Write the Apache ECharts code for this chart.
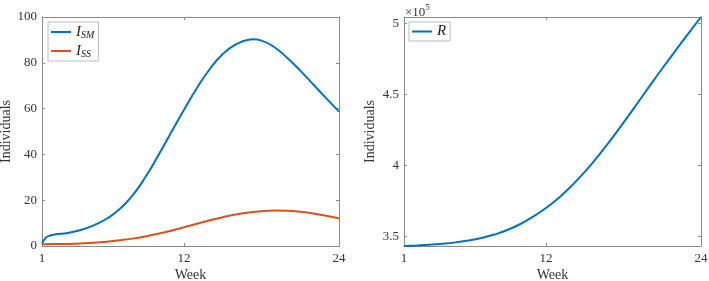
<!DOCTYPE html>
<html>
<head>
<meta charset="utf-8">
<script src="https://cdn.jsdelivr.net/npm/echarts@6/dist/echarts.min.js"></script>
<style>html,body{margin:0;padding:0;background:#fff}#c{width:709px;height:281px}</style>
</head>
<body>
<div id="c"></div>
<script>
// ---- data ----
const smWeeks = [1, 1.25, 1.5, 2, 3, 4, 5, 6, 7, 8, 9, 10, 11, 12, 13, 14, 15, 16, 17, 17.35, 18, 19, 20, 21, 22, 23, 24];
const iSM = [1.0, 3.3, 4.3, 5.0, 5.7, 7.0, 9.0, 11.9, 16.0, 22.0, 30.0, 39.5, 49.6, 59.5, 69.0, 77.3, 83.8, 88.0, 90.1, 90.25, 89.7, 86.8, 82.1, 76.6, 70.6, 64.6, 58.7];
const weeks = [1, 2, 3, 4, 5, 6, 7, 8, 9, 10, 11, 12, 13, 14, 15, 16, 17, 18, 19, 20, 21, 22, 23, 24];
const iSS = [0.8, 0.82, 0.92, 1.12, 1.42, 1.87, 2.47, 3.22, 4.17, 5.32, 6.67, 8.17, 9.72, 11.22, 12.57, 13.72, 14.62, 15.22, 15.45, 15.35, 14.92, 14.17, 13.22, 12.1];
const rValues = [343200, 343600, 344100, 344800, 345750, 347050, 348850, 351250, 354450, 358650, 363850, 370050, 377250, 385750, 395450, 406250, 417850, 430150, 442850, 455650, 468250, 480550, 492650, 504550];
const xTicks = [1, 12, 24];
const leftYTicks = [0, 20, 40, 60, 80, 100];
const rightYTicks = [350000, 400000, 450000, 500000];

const FONT = 'Liberation Serif';
const AX = '#8a8a8a';
const TXT = '#333';
const BLUE = '#0072BD', ORANGE = '#D95319';

function xAxisPair(grid) {
  const base = {
    type: 'value', gridIndex: grid, min: 1, max: 24,
    axisLine: { show: true, onZero: false, lineStyle: { color: AX, width: 1 } },
    axisTick: { show: true, inside: true, length: 3, customValues: xTicks, lineStyle: { color: AX } },
    splitLine: { show: false }
  };
  return [
    Object.assign({}, base, {
      position: 'bottom',
      axisLabel: { show: true, customValues: xTicks, margin: 6, color: TXT, fontFamily: FONT, fontSize: 13 },
      name: 'Week', nameLocation: 'middle', nameGap: 22, nameMoveOverlap: false,
      nameTextStyle: { color: TXT, fontFamily: FONT, fontSize: 14 }
    }),
    Object.assign({}, base, { position: 'top', axisLabel: { show: false } })
  ];
}
function yAxisPair(grid, min, max, ticks, fmt, gap) {
  const base = {
    type: 'value', gridIndex: grid, min: min, max: max,
    axisLine: { show: true, onZero: false, lineStyle: { color: AX, width: 1 } },
    axisTick: { show: true, inside: true, length: 3, customValues: ticks, lineStyle: { color: AX } },
    splitLine: { show: false }
  };
  return [
    Object.assign({}, base, {
      position: 'left',
      axisLabel: { show: true, customValues: ticks, margin: 5, color: TXT, fontFamily: FONT, fontSize: 13, formatter: fmt },
      name: 'Individuals', nameLocation: 'middle', nameGap: gap, nameMoveOverlap: false,
      nameTextStyle: { color: TXT, fontFamily: FONT, fontSize: 14 }
    }),
    Object.assign({}, base, { position: 'right', axisLabel: { show: false } })
  ];
}

const rich = {
  i: { fontFamily: FONT, fontStyle: 'italic', fontSize: 15, color: '#222', lineHeight: 16, verticalAlign: 'middle' },
  s: { fontFamily: FONT, fontStyle: 'italic', fontSize: 10, color: '#222', lineHeight: 16, verticalAlign: 'bottom', padding: [6, 0, 0, 0] }
};
function legendFmt(name) {
  if (name === 'I_SM') return '{i|I}{s|SM}';
  if (name === 'I_SS') return '{i|I}{s|SS}';
  return '{i|' + name + '}';
}

const chart = echarts.init(document.getElementById('c'), null, { renderer: 'canvas' });
chart.setOption({
  animation: false,
  backgroundColor: '#fff',
  grid: [
    { left: 42, right: 370, top: 17, bottom: 35, containLabel: false, outerBoundsMode: 'none' },
    { left: 404, right: 8, top: 17, bottom: 35, containLabel: false, outerBoundsMode: 'none' }
  ],
  xAxis: [].concat(xAxisPair(0), xAxisPair(1)),
  yAxis: [].concat(
    yAxisPair(0, 0, 100, leftYTicks, v => String(v), 29),
    yAxisPair(1, 343200, 504550, rightYTicks, v => String(v / 100000), 27)
  ),
  legend: [
    {
      data: ['I_SM', 'I_SS'], left: 48, top: 22, orient: 'vertical', icon: 'rect',
      itemWidth: 20, itemHeight: 2, itemGap: 3, padding: [2, 4, 2, 3],
      borderColor: '#bbb', borderWidth: 1, backgroundColor: '#fff',
      formatter: legendFmt, textStyle: { rich: rich }
    },
    {
      data: ['R'], left: 409, top: 22, orient: 'vertical', icon: 'rect',
      itemWidth: 20, itemHeight: 2, padding: [2, 4, 2, 3],
      borderColor: '#bbb', borderWidth: 1, backgroundColor: '#fff',
      formatter: legendFmt, textStyle: { rich: rich }
    }
  ],
  graphic: [
    {
      type: 'text', left: 405, top: 3,
      style: {
        text: '{a|×10}{b|5}',
        rich: {
          a: { fontFamily: FONT, fontSize: 13, fill: TXT, lineHeight: 16, verticalAlign: 'bottom' },
          b: { fontFamily: FONT, fontSize: 9, fill: TXT, lineHeight: 16, verticalAlign: 'top' }
        }
      }
    }
  ],
  series: [
    {
      name: 'I_SM', type: 'line', xAxisIndex: 0, yAxisIndex: 0, smooth: 0.5, symbol: 'none',
      lineStyle: { color: BLUE, width: 2 }, itemStyle: { color: BLUE },
      data: smWeeks.map((w, i) => [w, iSM[i]])
    },
    {
      name: 'I_SS', type: 'line', xAxisIndex: 0, yAxisIndex: 0, smooth: 0.5, symbol: 'none',
      lineStyle: { color: ORANGE, width: 2 }, itemStyle: { color: ORANGE },
      data: weeks.map((w, i) => [w, iSS[i]])
    },
    {
      name: 'R', type: 'line', xAxisIndex: 2, yAxisIndex: 2, smooth: 0.5, symbol: 'none',
      lineStyle: { color: BLUE, width: 2 }, itemStyle: { color: BLUE },
      data: weeks.map((w, i) => [w, rValues[i]])
    }
  ]
});
</script>
</body>
</html>
